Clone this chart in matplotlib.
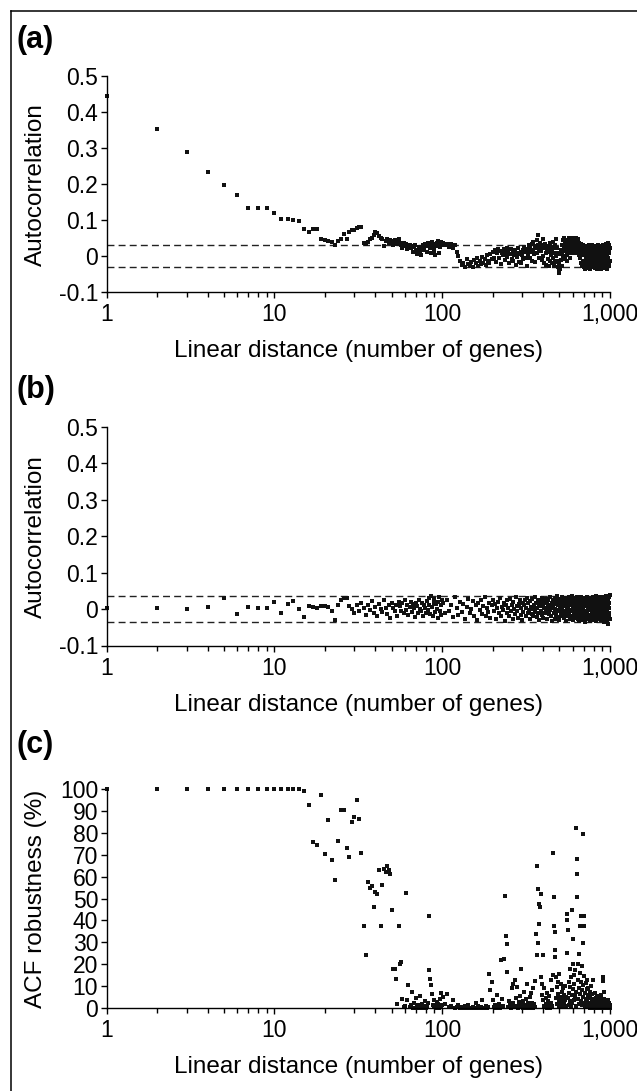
import numpy as np
import matplotlib.pyplot as plt
from matplotlib.lines import Line2D

plt.rcParams['font.family'] = ['Liberation Sans', 'DejaVu Sans']

# lags: every lag up to 100, then every third lag up to 1000
lag_near = np.arange(1, 101)
lag_far = np.arange(101, 1001, 3)

# (a) autocorrelation of expression along the chromosome
acf_a_near = [
    0.445, 0.352, 0.288, 0.233, 0.199, 0.171, 0.135, 0.134, 0.134, 0.120,
    0.104, 0.103, 0.101, 0.099, 0.076, 0.068, 0.076, 0.076, 0.049, 0.045,
    0.041, 0.039, 0.031, 0.042, 0.049, 0.062, 0.048, 0.067, 0.072, 0.074,
    0.077, 0.080, 0.082, 0.038, 0.034, 0.040, 0.048, 0.052, 0.060, 0.066,
    0.064, 0.056, 0.052, 0.047, 0.028, 0.043, 0.049, 0.038, 0.046, 0.042,
    0.030, 0.044, 0.040, 0.035, 0.047, 0.038, 0.031, 0.024, 0.036, 0.029,
    0.033, 0.019, 0.026, 0.031, 0.022, 0.029, 0.011, 0.027, 0.032, 0.018,
    0.006, 0.014, 0.025, 0.010, 0.003, 0.021, 0.030, 0.016, 0.035, 0.028,
    0.012, 0.036, 0.038, 0.031, 0.022, 0.008, 0.039, 0.034, 0.026, 0.014,
    0.004, 0.029, 0.037, 0.041, 0.033, 0.010, 0.027, 0.036, 0.039, 0.030,
]
acf_a_far = [
    0.038, 0.030, 0.034, 0.027, 0.035, 0.024, 0.030, 0.012, 0.002, -0.012, -0.025,
    -0.018, -0.030, -0.008, -0.022, -0.026, -0.015, -0.031, -0.010, -0.020, -0.005, -0.027,
    -0.014, -0.022, -0.002, -0.018, -0.009, -0.024, 0.004, -0.012, -0.019, 0.006, -0.008,
    0.012, -0.004, 0.018, -0.015, 0.008, 0.021, -0.006, 0.014, -0.022, 0.010, 0.003,
    0.019, -0.010, 0.008, 0.024, -0.003, 0.015, -0.018, 0.006, 0.020, -0.008, 0.012,
    -0.014, 0.004, 0.017, -0.025, 0.009, -0.002, 0.022, -0.016, 0.007, 0.013, -0.020,
    0.003, 0.018, -0.009, 0.026, 0.011, -0.005, 0.020, -0.028, 0.015, 0.006, 0.030,
    -0.006, 0.024, 0.012, 0.034, -0.012, 0.018, 0.040, 0.005, 0.028, -0.015, 0.022,
    0.045, 0.010, 0.032, 0.060, 0.020, -0.004, 0.038, 0.014, 0.026, -0.010, 0.030,
    0.048, 0.002, 0.022, -0.018, 0.034, 0.010, -0.024, 0.016, 0.028, -0.008, 0.020,
    -0.026, 0.012, 0.036, -0.014, 0.004, 0.026, -0.020, 0.015, 0.040, -0.006, 0.022,
    -0.028, 0.010, 0.032, -0.016, 0.002, 0.048, -0.012, 0.024, -0.030, 0.008, -0.038,
    -0.046, -0.022, 0.006, -0.034, 0.018, -0.010, 0.030, -0.026, 0.012, 0.044, 0.000,
    0.026, 0.052, 0.014, -0.008, 0.036, 0.020, 0.046, 0.004, 0.030, -0.014, 0.024,
    0.040, 0.010, 0.034, 0.050, 0.018, 0.028, -0.004, 0.038, 0.022, 0.046, 0.012,
    0.032, 0.052, 0.024, 0.008, 0.040, 0.028, 0.044, 0.016, 0.036, 0.050, 0.020,
    0.030, 0.010, 0.042, 0.026, 0.048, 0.018, 0.034, 0.004, 0.038, 0.022, 0.012,
    0.028, -0.006, 0.034, 0.016, -0.018, 0.024, 0.006, -0.026, 0.030, 0.010, -0.012,
    0.020, -0.030, 0.004, 0.026, -0.020, 0.012, -0.034, 0.018, -0.008, 0.028, -0.024,
    0.008, -0.016, 0.022, -0.032, 0.002, 0.014, -0.022, 0.030, -0.010, 0.006, -0.036,
    0.018, -0.004, 0.024, -0.028, 0.010, -0.014, 0.032, -0.020, 0.004, 0.016, -0.030,
    0.026, -0.008, 0.012, -0.024, 0.020, 0.000, -0.032, 0.014, -0.018, 0.028, -0.006,
    0.010, -0.026, 0.022, -0.012, 0.006, -0.034, 0.018, 0.002, -0.020, 0.030, -0.014,
    0.012, -0.030, 0.024, -0.004, 0.016, -0.022, 0.008, -0.036, 0.020, -0.010, 0.028,
    -0.018, 0.004, 0.026, -0.028, 0.014, -0.008, 0.032, -0.024, 0.010, -0.002, 0.022,
    -0.032, 0.016, -0.014, 0.024, 0.002, -0.026, 0.034, -0.010, 0.018, -0.020, 0.006,
    0.028, -0.034, 0.012, -0.016, 0.036, -0.004, 0.020, -0.028, 0.008, 0.030, -0.022,
    0.014, -0.012, 0.024,
]
ci_a = 0.031

# (b) shuffled gene order
acf_b_near = [
    0.002, 0.004, -0.001, 0.007, 0.030, -0.013, 0.007, 0.002, 0.002, 0.019,
    -0.010, 0.015, 0.021, -0.001, -0.022, 0.008, 0.005, 0.003, 0.008, 0.008,
    0.006, -0.004, -0.029, 0.012, 0.024, 0.030, 0.030, 0.008, 0.001, -0.010,
    0.012, -0.006, 0.018, 0.004, -0.016, 0.010, -0.002, 0.022, -0.012, 0.006,
    -0.020, 0.014, 0.000, -0.008, 0.026, 0.004, -0.014, 0.010, -0.025, 0.018,
    0.002, -0.006, 0.012, -0.018, 0.020, 0.008, -0.004, 0.016, -0.010, 0.024,
    -0.002, 0.010, -0.016, 0.006, 0.020, -0.008, 0.014, 0.002, -0.022, 0.018,
    0.008, -0.012, 0.026, 0.000, -0.006, 0.016, -0.018, 0.012, 0.004, -0.010,
    0.022, -0.002, 0.030, 0.010, -0.014, 0.036, 0.006, -0.020, 0.018, 0.028,
    -0.008, 0.014, 0.000, -0.024, 0.020, 0.032, -0.004, 0.010, -0.016, 0.026,
]
acf_b_far = [
    0.018, -0.012, 0.026, -0.004, 0.010, -0.022, 0.032, 0.002, -0.016, 0.020, -0.008,
    0.014, -0.026, 0.006, 0.028, -0.010, 0.000, 0.022, -0.018, 0.012, -0.030, 0.016,
    -0.002, 0.024, -0.014, 0.008, 0.034, -0.020, 0.004, -0.008, 0.018, -0.024, 0.010,
    0.026, -0.006, 0.014, -0.028, 0.002, 0.020, -0.012, 0.030, -0.018, 0.006, -0.002,
    0.016, -0.032, 0.010, 0.024, -0.010, 0.004, -0.020, 0.028, -0.006, 0.012, -0.026,
    0.020, 0.000, -0.014, 0.032, -0.004, 0.008, -0.024, 0.014, 0.026, -0.016, 0.004,
    -0.030, 0.018, -0.008, 0.010, 0.024, -0.020, 0.002, 0.030, -0.012, 0.016, -0.002,
    0.022, -0.026, 0.006, -0.014, 0.028, 0.000, -0.018, 0.012, 0.034, -0.008, 0.018,
    -0.022, 0.004, 0.026, -0.010, 0.014, -0.030, 0.020, -0.004, 0.008, 0.030, -0.016,
    0.010, -0.024, 0.022, 0.002, -0.012, 0.028, -0.006, 0.016, -0.028, 0.006, 0.024,
    -0.014, 0.012, -0.002, 0.032, -0.020, 0.008, 0.018, -0.032, 0.004, 0.026, -0.010,
    0.014, -0.026, 0.030, 0.000, -0.016, 0.020, -0.006, 0.036, -0.022, 0.010, -0.002,
    0.024, -0.030, 0.006, 0.016, -0.012, 0.028, -0.018, 0.002, 0.034, -0.008, 0.012,
    -0.024, 0.020, -0.004, 0.030, -0.014, 0.008, -0.034, 0.018, 0.000, 0.026, -0.020,
    0.006, 0.032, -0.010, 0.014, -0.028, 0.022, -0.002, 0.010, -0.018, 0.036, -0.006,
    0.018, -0.030, 0.004, 0.026, -0.014, 0.012, -0.024, 0.030, 0.002, -0.008, 0.020,
    -0.016, 0.034, -0.002, 0.008, -0.026, 0.022, 0.014, -0.034, 0.006, 0.028, -0.010,
    0.016, -0.020, 0.032, -0.006, 0.010, -0.030, 0.024, 0.000, -0.014, 0.018, -0.024,
    0.004, 0.030, -0.012, 0.020, -0.036, 0.012, -0.004, 0.026, -0.018, 0.008, 0.034,
    -0.008, 0.016, -0.028, 0.022, 0.002, -0.016, 0.030, -0.022, 0.010, -0.002, 0.024,
    -0.032, 0.014, 0.006, -0.020, 0.028, -0.010, 0.018, -0.026, 0.000, 0.032, -0.014,
    0.012, -0.004, 0.024, -0.030, 0.008, 0.020, -0.016, 0.002, -0.024, 0.036, -0.008,
    0.018, -0.034, 0.010, 0.026, -0.012, 0.004, -0.022, 0.030, -0.002, 0.014, -0.028,
    0.022, 0.000, -0.018, 0.034, -0.006, 0.012, -0.030, 0.020, 0.006, -0.014, 0.028,
    -0.024, 0.008, 0.016, -0.010, 0.032, -0.020, 0.002, 0.024, -0.036, 0.012, -0.004,
    0.030, -0.016, 0.010, -0.026, 0.020, 0.000, -0.012, 0.036, -0.022, 0.006, 0.018,
    -0.030, 0.014, -0.006, 0.026, -0.040, 0.008, 0.022, -0.018, 0.002, 0.032, -0.010,
    0.016, -0.026, 0.040,
]
ci_b = 0.035

# (c) ACF robustness (%)
rob_near = [
    100, 100, 100, 100, 100, 100, 100, 100, 100, 100,
    100, 100, 100, 100, 99.0, 92.5, 75.8, 74.6, 97.1, 70.3,
    85.7, 67.4, 58.6, 76.2, 90.4, 90.4, 73.2, 68.9, 85.0, 87.0,
    95.1, 86.4, 70.9, 37.3, 24.2, 57.5, 55.0, 55.6, 46.1, 53.0,
    52.0, 62.9, 37.3, 56.0, 63.5, 62.0, 64.7, 63.0, 61.3, 44.6,
    18.0, 18.0, 13.4, 2.0, 37.3, 20.2, 21.0, 4.0, 0.5, 1.0,
    52.5, 3.8, 10.4, 0.3, 1.5, 7.5, 0.2, 2.5, 0.0, 4.5,
    0.8, 1.2, 0.0, 5.5, 0.4, 2.0, 0.0, 1.0, 3.0, 0.2,
    0.6, 2.2, 41.9, 17.2, 13.4, 10.4, 6.5, 1.5, 3.5, 0.4,
    1.0, 0.0, 2.8, 0.5, 1.8, 0.0, 4.2, 0.3, 6.8, 1.2,
]
rob_far = [
    5.0, 2.0, 6.5, 0.5, 1.0, 3.5, 0.0, 0.3, 1.2, 0.0, 0.5,
    0.0, 0.8, 0.0, 1.5, 0.2, 0.0, 0.6, 0.0, 2.5, 0.0, 1.0,
    0.0, 0.4, 3.5, 0.0, 0.2, 1.0, 0.0, 0.5, 15.7, 8.0, 12.0,
    3.5, 0.5, 1.5, 0.0, 6.0, 0.8, 2.0, 0.0, 22.0, 4.0, 1.0,
    22.5, 51.3, 33.0, 29.0, 16.4, 0.5, 3.0, 1.2, 0.0, 9.0, 2.5,
    11.0, 0.3, 12.6, 4.5, 1.0, 9.6, 0.0, 2.8, 5.5, 1.5, 18.0,
    0.6, 3.0, 0.0, 7.5, 1.5, 0.2, 4.0, 11.0, 0.8, 2.2, 0.0,
    5.0, 1.0, 7.0, 0.3, 2.5, 0.0, 9.0, 1.8, 0.5, 12.5, 34.0,
    24.0, 65.0, 54.5, 29.7, 47.6, 38.5, 46.0, 52.2, 14.0, 11.0, 6.0,
    24.0, 3.5, 1.0, 9.0, 0.5, 4.5, 2.0, 0.0, 7.0, 1.2, 3.0,
    0.4, 5.5, 1.5, 0.0, 2.5, 13.0, 8.0, 1.0, 15.0, 70.8, 50.5,
    37.3, 34.7, 26.4, 23.4, 14.0, 4.5, 9.5, 2.0, 6.5, 12.0, 1.0,
    3.5, 15.5, 0.8, 5.0, 11.0, 2.5, 7.5, 0.5, 4.0, 1.5, 9.0,
    2.0, 6.0, 0.5, 3.5, 10.0, 1.0, 5.0, 25.0, 40.0, 43.0, 35.5,
    4.5, 12.0, 1.5, 7.0, 18.0, 3.0, 9.5, 0.8, 14.0, 2.5, 6.0,
    44.6, 31.7, 20.0, 8.5, 15.0, 3.5, 11.0, 5.5, 17.5, 1.0, 7.5,
    82.0, 68.2, 61.3, 50.7, 20.2, 13.0, 4.0, 9.0, 24.5, 2.0, 16.0,
    6.5, 37.3, 41.9, 12.0, 3.0, 19.0, 8.0, 1.5, 10.5, 29.7, 5.0,
    79.3, 41.9, 37.3, 14.5, 2.5, 7.0, 0.5, 11.5, 4.0, 1.0, 8.5,
    3.0, 13.0, 0.8, 6.0, 2.0, 9.0, 0.3, 4.5, 1.5, 7.5, 0.0,
    2.5, 5.0, 0.5, 10.0, 1.0, 3.5, 0.0, 6.5, 1.8, 0.4, 4.0,
    12.6, 1.0, 0.0, 3.0, 0.5, 2.0, 7.0, 0.2, 1.5, 0.0, 4.5,
    0.8, 2.5, 0.0, 1.2, 5.5, 0.3, 0.0, 3.5, 1.0, 0.0, 2.0,
    0.5, 0.0, 4.0, 1.5, 0.0, 2.8, 0.2, 1.0, 0.0, 6.0, 0.5,
    1.8, 0.0, 3.0, 0.4, 2.2, 0.0, 14.0, 12.5, 7.3, 4.3, 1.0,
    0.0, 2.5, 0.6, 1.5, 0.0, 3.8, 0.2, 1.0, 0.0, 2.0, 0.5,
    1.2, 0.0, 2.8, 0.3, 1.0, 0.0, 3.5, 0.5, 1.8, 0.0, 2.2,
    0.6, 1.5, 0.0,
]

xticks = [1, 10, 100, 1000]
xticklabels = ['1', '10', '100', '1,000']
acf_ticks = [-0.1, 0, 0.1, 0.2, 0.3, 0.4, 0.5]
acf_ticklabels = ['-0.1', '0', '0.1', '0.2', '0.3', '0.4', '0.5']
rob_ticks = list(range(0, 101, 10))

xlabel = 'Linear distance (number of genes)'
dot = '#111111'

W, H = 637, 1091
fig = plt.figure(figsize=(W / 100, H / 100), dpi=100)


def panel(top, bottom):
    ax = fig.add_axes([106.5 / W, 1 - bottom / H, 503.5 / W, (bottom - top) / H])
    ax.set_xscale('log')
    ax.set_xlim(1, 1000)
    for s in ['top', 'right']:
        ax.spines[s].set_visible(False)
    for s in ['left', 'bottom']:
        ax.spines[s].set_linewidth(1.0)
    ax.tick_params(which='major', direction='out', length=4, width=1.0,
                   labelsize=16.5, pad=2)
    ax.tick_params(which='minor', direction='out', length=3.5, width=1.0)
    ax.tick_params(axis='x', which='major', pad=4)
    ax.set_xticks(xticks)
    ax.set_xticklabels(xticklabels)
    ax.set_xlabel(xlabel, fontsize=17.5, labelpad=10)
    return ax


def scatter(ax, near, far):
    ax.plot(lag_near, near, 's', ms=2.2, mew=0, color=dot, clip_on=False)
    ax.plot(lag_far, far, 's', ms=2.2, mew=0, color=dot, clip_on=False)


# (a)
ax_a = panel(76, 292.3)
ax_a.set_ylim(-0.1, 0.5)
ax_a.set_yticks(acf_ticks)
ax_a.set_yticklabels(acf_ticklabels)
for c in (ci_a, -ci_a):
    ax_a.axhline(c, color='#222222', lw=1.0, ls=(0, (5, 3)))
scatter(ax_a, acf_a_near, acf_a_far)
ax_a.set_ylabel('Autocorrelation', fontsize=17.5)
ax_a.yaxis.set_label_coords(-0.118, 0.5)

# (b)
ax_b = panel(427, 645.5)
ax_b.set_ylim(-0.1, 0.5)
ax_b.set_yticks(acf_ticks)
ax_b.set_yticklabels(acf_ticklabels)
for c in (ci_b, -ci_b):
    ax_b.axhline(c, color='#222222', lw=1.0, ls=(0, (5, 3)))
scatter(ax_b, acf_b_near, acf_b_far)
ax_b.set_ylabel('Autocorrelation', fontsize=17.5)
ax_b.yaxis.set_label_coords(-0.118, 0.5)

# (c)
ax_c = panel(789, 1008)
ax_c.set_ylim(0, 100)
ax_c.set_yticks(rob_ticks)
scatter(ax_c, rob_near, rob_far)
ax_c.set_ylabel('ACF robustness (%)', fontsize=17.5)
ax_c.yaxis.set_label_coords(-0.118, 0.5)

for lab, y in [('(a)', 40), ('(b)', 390), ('(c)', 745)]:
    fig.text(17 / W, 1 - y / H, lab, fontsize=22, fontweight='bold',
             ha='left', va='center')

# frame round the figure (open at right and bottom)
fig.add_artist(Line2D([11 / W, 11 / W], [0, 1 - 11 / H], color='black', lw=1.1,
                      transform=fig.transFigure))
fig.add_artist(Line2D([11 / W, 1], [1 - 11 / H, 1 - 11 / H], color='black', lw=1.1,
                      transform=fig.transFigure))

fig.savefig('out.png', dpi=100)
